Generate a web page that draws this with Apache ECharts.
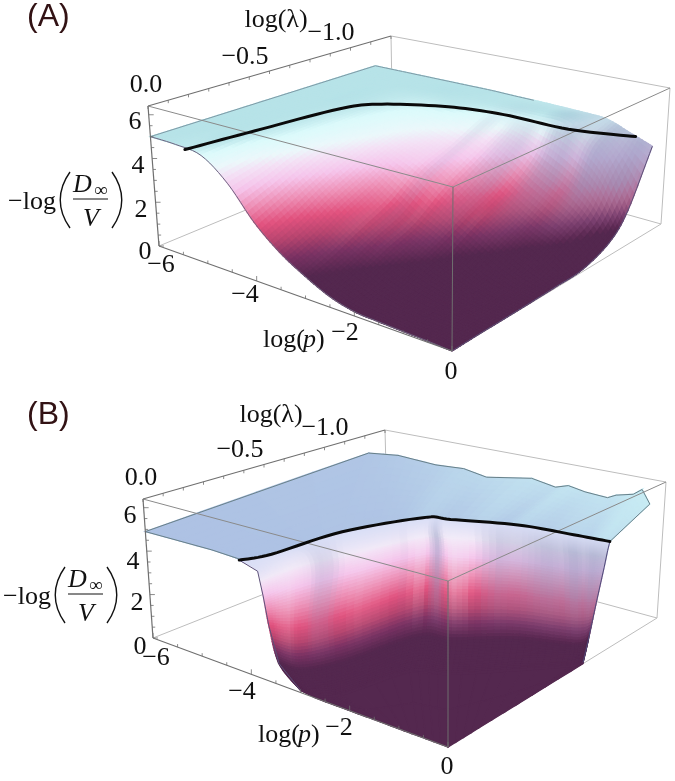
<!DOCTYPE html>
<html><head><meta charset="utf-8">
<style>html,body{margin:0;padding:0;background:#fff}#c{width:675px;height:781px}</style>
<script src="https://cdn.jsdelivr.net/npm/echarts@6/dist/echarts.min.js"></script>
</head><body><div id="c"></div>
<script>
// ---------- values ----------
const pTicks=[-6,-4,-2,0], lambdaTicks=[0,-0.5,-1], zTicks=[0,2,4,6];
// Panel A: surface height z on a (log p, log lambda) table
const pA=[-6,-5.5,-5,-4.5,-4,-3.5,-3,-2.5,-2,-1.5,-1,-0.5,0];
const lambdaA=[-1.12,-1,-0.9,-0.75,-0.6,-0.45,-0.3,-0.15,0];
const zA=[
[5,5,5,5,5,5,4.97,4.95,4.92,4.88,4.8,4.4,4.0],
[5,5,5,5,5,4.98,4.96,4.93,4.9,4.85,4.3,3.4,1.6],
[5,5,5,4.95,4.9,4.88,4.7,4.35,3.9,3.2,2.6,1.8,0.6],
[5,5,5,4.9,4.7,4.4,4.05,3.6,2.8,2.1,1.5,1.0,0.1],
[5,5,4.98,4.83,4.5,4.0,3.55,2.85,2.1,1.5,0.9,0.4,0.05],
[5,5,4.97,4.75,4.2,3.4,2.6,1.9,1.4,0.8,0.35,0.1,0.03],
[5,5,4.95,4.6,3.7,2.8,2.0,1.4,0.85,0.5,0.25,0.06,0.02],
[5,4.99,4.92,4.2,3.1,2.1,1.4,0.85,0.4,0.2,0.1,0.05,0.02],
[5,4.97,4.8,3.9,2.55,1.6,0.95,0.45,0.18,0.12,0.08,0.05,0]];
const tintA=[
[0,0,0,0,0,0,0,0,0.1,0.2,0.3,0.45,0.6],
[0,0,0,0,0,0,0,0.1,0,0.25,0.35,0.55,0.6],
[0,0,0,0,0,0,0,0.1,0.1,0.3,0.4,0.55,0.4],
[0,0,0,0,0,0,0,0,0.1,0.15,0.25,0.35,0.2],
[0,0,0,0,0,0,0,0,0,0,0.1,0.15,0],
[0,0,0,0,0,0,0,0,0,0,0,0,0],
[0,0,0,0,0,0,0,0,0,0,0,0,0],
[0,0,0,0,0,0,0,0,0,0,0,0,0],
[0,0,0,0,0,0,0,0,0,0,0,0,0]];
const streak_A=[0,0,0,0,0,0,0,0,0,0,0,0,-0.1,0.12,-0.1,0.1,0.18,-0.1,0.15,0.2,0,0.2,0.1,0.15,0];
const ridgeP_A=[-5.32,-5.16,-4.92,-4.56,-3.6,-2.58,-1.2,0];
const ridgeL_A=[0,-0.31,-0.68,-0.81,-0.92,-0.96,-0.96,-1.02];
const ridgeZ_A=[4.86,4.86,4.86,4.86,4.86,4.86,4.86,4.86];
// Panel B: plateau, rows back edge -> ridge
const plateauP_B=[
[-4.14,-4.68,-6,-6,-5.37,-4.56,-3.97,-3.48,-2.52,-2.01,-1.74,-1.38,-0.9,-0.72,-0.36,-0.18,0],
[-4.14,-4.03,-3.96,-3.84,-3.62,-3.48,-3.3,-2.88,-2.4,-2.04,-1.8,-1.32,-0.72,-0.42,-0.24,-0.12,0]];
const plateauL_B=[
[0,0,0,-1.116,-1.116,-1.116,-1.116,-1.116,-1.116,-1.116,-1.116,-1.116,-1.116,-1.116,-1.116,-1.116,-1.116],
[0,-0.06,-0.12,-0.456,-0.6,-0.68,-0.74,-0.78,-0.828,-0.852,-0.864,-0.876,-0.888,-0.894,-0.898,-0.899,-0.9]];
const plateauZ_B=[
[4.9,4.95,4.9,5.4,5.6,5.5,5.6,5.4,5.8,5.6,5.8,5.66,5.6,5.8,6.0,6.3,5.7],
[4.85,4.85,4.85,4.85,4.85,4.85,4.85,4.85,4.85,4.85,4.85,4.85,4.85,4.85,4.85,4.85,4.85]];
const plateauHue_B=[
[0.05,0.05,0,0.1,0.2,0.35,0.5,0.55,0.75,0.65,0.85,0.75,0.8,0.8,0.95,1,1],
[0,0,0,0.05,0.05,0.1,0.35,0.15,0.45,0.2,0.5,0.3,0.5,0.45,0.7,0.8,0.7]];
// Panel B: cliff, rows ridge -> foot, columns left -> right
const cliffP_B=[
[-4.14,-3.96,-3.84,-3.3,-2.88,-1.8,-0.72,0],
[-3.78,-3.84,-3.6,-3.2,-2.8,-1.75,-0.66,0],
[-3.69,-3.59,-3.41,-3.03,-2.57,-1.58,-0.52,0],
[-3.6,-3.2,-3.0,-2.74,-2.25,-1.36,-0.31,0],
[-3.42,-3,-2.7,-2.4,-1.86,-1.08,-0.06,0],
[-3,-2.7,-2.4,-2.1,-1.56,-0.84,-0.06,0]];
const cliffL_B=[
[0,-0.12,-0.456,-0.74,-0.78,-0.864,-0.888,-0.9],
[0,-0.2,-0.4,-0.7,-0.76,-0.845,-0.87,-0.89],
[0,-0.168,-0.36,-0.665,-0.713,-0.803,-0.845,-0.874],
[0,-0.05,-0.22,-0.581,-0.629,-0.738,-0.799,-0.838],
[0,-0.006,-0.15,-0.48,-0.528,-0.66,-0.744,-0.8],
[0,0,-0.06,-0.36,-0.42,-0.564,-0.72,-0.775]];
const cliffZ_B=[
[4.85,4.85,4.85,4.85,4.85,4.85,4.85,4.85],
[4.6,4.5,4.5,4.5,4.5,4.5,4.5,4.5],
[3.6,3.8,3.8,3.8,3.8,3.8,3.8,3.8],
[2.4,2.4,2.4,2.4,2.4,2.4,2.4,2.4],
[0.9,0.9,0.9,0.9,0.9,0.9,0.9,0.9],
[0.1,0.1,0.1,0.1,0.1,0.1,0.1,0.05]];
// Panel B: flat floor under and in front of the cliff foot
const floorP_B=[
[-3.42,-3,-2.7,-2.4,-1.86,-1.08,-0.06,0],
[-3,-2.7,-2.4,-2.1,-1.56,-0.84,-0.06,0],
[-2.7,-1.8,-1.2,-0.6,0,0,0,0]];
const floorL_B=[
[0,-0.006,-0.15,-0.48,-0.528,-0.66,-0.744,-0.8],
[0,0,-0.06,-0.36,-0.42,-0.564,-0.72,-0.775],
[0,0,0,0,0,-0.18,-0.48,-0.775]];
const floorZ_B=[
[0.9,0.9,0.9,0.9,0.9,0.9,0.9,0.9],
[0.1,0.1,0.1,0.1,0.1,0.1,0.1,0.05],
[0,0,0,0,0,0,0,0]];
const streak_B=[0,0,-0.1,-0.15,0,0.05,0.25,0.2,0,-0.1,-0.05,0.05,-0.25,0.2,0.5,0.15,-0.35,-0.2,0.15,0.35,0.3,0.4,0.5,0.45,0.6,0.5,0.6,0.55,0.5];
const ridgeP_B=[-4.14,-3.96,-3.84,-3.3,-2.88,-1.8,-0.72,0];
const ridgeL_B=[0,-0.12,-0.456,-0.74,-0.78,-0.864,-0.888,-0.9];
const ridgeZ_B=[4.85,4.85,4.85,4.85,4.85,4.85,4.85,4.85];

// ---------- layout ----------
const boxA={a0:[159,246],a1:[148,106],b0:[452,351],b1:[453,187],c0:[393,149],c1:[391,36],d0:[661,224],d1:[670,88]};
const boxB={a0:[153,638],a1:[143,499],b0:[448,747],b1:[448,581],c0:[388,545],c1:[385,430],d0:[657,618],d1:[666,482]};
const zTop=6.4, lambdaEnd=-1.2;
function proj(B,p,l,z){
  const u=(p+6)/6,v=l/lambdaEnd,w=z/zTop;
  const f=(i)=>{
    const b00=B.a0[i]+(B.a1[i]-B.a0[i])*w, b10=B.b0[i]+(B.b1[i]-B.b0[i])*w,
          b01=B.c0[i]+(B.c1[i]-B.c0[i])*w, b11=B.d0[i]+(B.d1[i]-B.d0[i])*w;
    return b00*(1-u)*(1-v)+b10*u*(1-v)+b01*(1-u)*v+b11*u*v;};
  return [f(0),f(1)];
}
const hex=h=>[parseInt(h.slice(1,3),16),parseInt(h.slice(3,5),16),parseInt(h.slice(5,7),16)];
const mix=(a,b,t)=>[a[0]+(b[0]-a[0])*t,a[1]+(b[1]-a[1])*t,a[2]+(b[2]-a[2])*t];
const css=c=>`rgb(${c[0]|0},${c[1]|0},${c[2]|0})`;
const stopsZ=[[0,'#54284f'],[0.9,'#54284f'],[1.4,'#7a3263'],[1.9,'#b84670'],[2.4,'#e2537f'],[3.0,'#ee90b6'],[3.6,'#f6c6ec'],[4.1,'#f4e2f6'],[4.4,'#ecf8fb'],[4.8,'#dcfbfc'],[4.95,'#bfe8ec'],[5.05,'#b0dfe5'],[7,'#b0dfe5']].map(s=>[s[0],hex(s[1])]);
function zColor(z){
  if(z<=0) return stopsZ[0][1];
  for(let i=1;i<stopsZ.length;i++) if(z<=stopsZ[i][0]){
    const a=stopsZ[i-1],b=stopsZ[i];return mix(a[1],b[1],(z-a[0])/(b[0]-a[0]));}
  return stopsZ[stopsZ.length-1][1];
}
const greyBlue=hex('#8e98be'),white=hex('#f4f2fb'),peri=hex('#aec2e4'),paleCyan=hex('#c8ecf4'),lilac=hex('#d8def6');
function shade(z,t){
  const c=zColor(z);
  const k=Math.max(0,Math.min(1,(z-1)/1.5));
  return t>=0?mix(c,greyBlue,Math.min(1,t*k)):mix(c,white,Math.min(1,-t*k));
}
const bil=(M,j,i,s,t)=>M[j][i]*(1-s)*(1-t)+M[j][i+1]*s*(1-t)+M[j+1][i]*(1-s)*t+M[j+1][i+1]*s*t;
const cr=(a,b,c,d,t)=>0.5*(2*b+(c-a)*t+(2*a-5*b+4*c-d)*t*t+(3*b-a-3*c+d)*t*t*t);
const clampI=(x,n)=>Math.max(0,Math.min(n-1,x));
function bic(M,j,i,s,t){
  const R=M.length,C=M[0].length;
  const row=r=>{const m=M[clampI(r,R)];return cr(m[clampI(i-1,C)],m[i],m[i+1],m[clampI(i+2,C)],s);};
  return cr(row(j-1),row(j),row(j+1),row(j+2),t);
}
const polys=[];
function addMesh(B,P,L,Z,colorOf,nx,ny,smooth){
  const g=smooth?bic:bil;
  for(let j=0;j<P.length-1;j++)for(let i=0;i<P[0].length-1;i++){
    for(let b=0;b<ny;b++)for(let a=0;a<nx;a++){
      const pt=(s,t)=>proj(B,g(P,j,i,s,t),g(L,j,i,s,t),Math.max(0,g(Z,j,i,s,t)));
      const s0=a/nx,s1=(a+1)/nx,t0=b/ny,t1=(b+1)/ny;
      polys.push({pts:[pt(s0,t0),pt(s1,t0),pt(s1,t1),pt(s0,t1)],color:css(colorOf(j,i,(s0+s1)/2,(t0+t1)/2))});
    }
  }
}
const table=(T,x)=>{const k=Math.min(Math.floor(x),T.length-2),f=x-k;return T[k]*(1-f)+T[k+1]*f;};
const gridP=lambdaA.map(()=>pA.slice());
const gridL=lambdaA.map(l=>pA.map(()=>l));
addMesh(boxA,gridP,gridL,zA,(j,i,s,t)=>{
  const z=bic(zA,j,i,s,t);
  const band=Math.max(0,Math.min(1,(4.95-z)/0.5));
  return shade(z,bil(tintA,j,i,s,t)+table(streak_A,(i+s)*2)*band);
},8,8,true);
addMesh(boxB,plateauP_B,plateauL_B,plateauZ_B,(j,i,s,t)=>mix(peri,paleCyan,bil(plateauHue_B,j,i,s,t)),4,10,false);
addMesh(boxB,floorP_B,floorL_B,floorZ_B,()=>stopsZ[0][1],4,2,false);
addMesh(boxB,cliffP_B,cliffL_B,cliffZ_B,(j,i,s,t)=>{
  const z=bic(cliffZ_B,j,i,s,t);
  const c=shade(Math.min(z,4.2),table(streak_B,(i+s)*4));
  return mix(c,lilac,Math.max(0,Math.min(1,(z-4.2)/0.65)));
},10,14,true);

const segUnder=[],segOver=[];
function seg(list,a,b,color,w){list.push({a,b,color,w});}
function addBox(B){
  const light='#bdbdbd',mid='#8a8a8a',dark='#6f6f6f';
  seg(segUnder,B.a0,B.c0,light,1);seg(segUnder,B.c0,B.d0,light,1);seg(segUnder,B.c0,B.c1,light,1);
  seg(segUnder,B.c1,B.d1,light,1);seg(segUnder,B.a1,B.c1,dark,1.1);
  seg(segUnder,B.d1,B.d0,light,1);seg(segUnder,B.d0,B.b0,light,1);
  seg(segOver,B.a1,B.b1,mid,1);seg(segOver,B.b1,B.d1,mid,1);seg(segOver,B.b1,B.b0,dark,1);
  seg(segOver,B.a1,B.a0,dark,1.2);seg(segOver,B.a0,B.b0,dark,1.1);
  for(let z=0;z<=6;z+=0.5){const q=proj(B,-6,0,z);seg(segOver,q,[q[0]+(z%2===0?5:3),q[1]],dark,0.8);}
  for(let p=-6;p<=0;p+=0.5){const q=proj(B,p,0,0);seg(segOver,q,[q[0],q[1]-(p%2===0?5:3)],dark,0.8);}
  for(let l=0;l>=-1.2;l-=0.1){const q=proj(B,-6,l,zTop);seg(segUnder,q,[q[0],q[1]+3],dark,0.8);}
}
addBox(boxA);addBox(boxB);

function densify(P,L,Z,n){const out=[];const N=P.length;
  for(let i=0;i<N-1;i++)for(let k=0;k<(i===N-2?n+1:n);k++){const t=k/n;
    const c=A=>cr(A[clampI(i-1,N)],A[i],A[i+1],A[clampI(i+2,N)],t);
    out.push([c(P),c(L),c(Z)]);}
  return out;}
const outlines=[];
function outline(B,pts,color,w){outlines.push({pts:pts.map(q=>proj(B,q[0],q[1],Math.max(0,q[2]))),color,w});}
const zip=(P,L,Z)=>P.map((p,i)=>[p,L[i],Z[i]]);
const col=(M,c)=>M.map(r=>r[c]);
outline(boxA,densify(pA,lambdaA.map(()=>lambdaA[0]),zA[0],6),'#7f9aa6',1);
outline(boxA,zip([-6,-6],[lambdaA[0],0],[zA[0][0],zA[8][0]]),'#7f9aa6',1);
outline(boxA,densify(pA,pA.map(()=>0),zA[8],6),'#6f6480',1);
outline(boxA,densify(lambdaA.map(()=>0),lambdaA,col(zA,12),6),'#5d5078',1);
outline(boxB,zip(plateauP_B[0],plateauL_B[0],plateauZ_B[0]),'#688088',1);
outline(boxB,zip(col(cliffP_B,0),col(cliffL_B,0),col(cliffZ_B,0)),'#5d5078',1);
outline(boxB,zip(col(cliffP_B,7),col(cliffL_B,7),col(cliffZ_B,7)),'#4f4a78',1);
outline(boxB,zip(col(plateauP_B,16),col(plateauL_B,16),col(plateauZ_B,16)),'#688088',1);
const ridges=[
 densify(ridgeP_A,ridgeL_A,ridgeZ_A,10).map(q=>proj(boxA,q[0],q[1],q[2])),
 densify(ridgeP_B,ridgeL_B,ridgeZ_B,10).map(q=>proj(boxB,q[0],q[1],q[2]))];

const serif='"Liberation Serif",serif';
const texts=[],fracs=[],parens=[];
function T(text,x,y,size,o){texts.push(Object.assign({text,x,y,size,family:serif,style:'normal',color:'#111',align:'center'},o||{}));}
function labels(L){
  lambdaTicks.forEach((v,i)=>T(i===0?'0.0':'\u2212'+Math.abs(v).toFixed(1),L.l[i][0],L.l[i][1],26));
  zTicks.forEach((v,i)=>T(String(v),L.z[i][0],L.z[i][1],26));
  pTicks.forEach((v,i)=>T(v===0?'0':'\u2212'+Math.abs(v),L.p[i][0],L.p[i][1],26));
  T('log(\u03bb)',L.ll[0],L.ll[1],26);
  T('log(',L.lp[0],L.lp[1],26,{align:'left'});
  T('p',L.lp[0]+40,L.lp[1],26,{align:'left',style:'italic'});
  T(')',L.lp[0]+53,L.lp[1],26,{align:'left'});
  const x=L.f[0],y=L.f[1];
  T('\u2212log',x,y,26,{align:'left'});
  T('D',x+65,y-17,26,{align:'left',style:'italic'});
  T('\u221e',x+86,y-11,19,{align:'left'});
  T('V',x+75,y+17,26,{align:'left',style:'italic'});
  fracs.push([[x+65,y-3],[x+100,y-3]]);
  parens.push([[x+62,y-30],[x+49,y-12],[x+49,y+8],[x+62,y+26]]);
  parens.push([[x+104,y-30],[x+117,y-12],[x+117,y+8],[x+104,y+26]]);
}
labels({l:[[146,85],[245,57],[331,33]],z:[[145,252],[141,210],[138,166],[135,122]],p:[[161,265],[245,295],[345,333],[451,372]],ll:[276,20],lp:[263,340],f:[8,202]});
labels({l:[[141,478],[240,450],[325,428]],z:[[140,647],[137,603],[133,562],[130,516]],p:[[156,658],[242,692],[339,728],[447,767]],ll:[271,415],lp:[258,735],f:[3,597]});
T('(A)',27,17,32,{align:'left',family:'"Liberation Sans",sans-serif',color:'#321214'});
T('(B)',27,415,32,{align:'left',family:'"Liberation Sans",sans-serif',color:'#321214'});

const chart=echarts.init(document.getElementById('c'),null,{renderer:'canvas'});
const silentSeries=(data,renderItem,z)=>({type:'custom',coordinateSystem:'cartesian2d',data,renderItem,silent:true,animation:false,clip:false,progressive:0,z});
const idx=a=>a.map((_,i)=>[i,0]);
const segItem=list=>(params,api)=>{const s=list[params.dataIndex];
  const a=api.coord(s.a),b=api.coord(s.b);
  return {type:'line',shape:{x1:a[0],y1:a[1],x2:b[0],y2:b[1]},style:{stroke:s.color,lineWidth:s.w}};};
chart.setOption({
  animation:false,
  grid:{left:0,right:0,top:0,bottom:0},
  xAxis:{type:'value',min:0,max:675,show:false},
  yAxis:{type:'value',min:0,max:781,inverse:true,show:false},
  series:[
    silentSeries(idx(segUnder),segItem(segUnder),1),
    silentSeries(idx(polys),(params,api)=>{
      const q=polys[params.dataIndex];
      return {type:'polygon',shape:{points:q.pts.map(v=>api.coord(v))},style:{fill:q.color,stroke:q.color,lineWidth:1.3}};
    },2),
    silentSeries(idx(outlines),(params,api)=>{const o=outlines[params.dataIndex];
      return {type:'polyline',shape:{points:o.pts.map(v=>api.coord(v))},style:{fill:null,stroke:o.color,lineWidth:o.w}};},3),
    silentSeries(idx(segOver),segItem(segOver),3),
    silentSeries(idx(ridges),(params,api)=>({type:'polyline',
      shape:{points:ridges[params.dataIndex].map(v=>api.coord(v))},
      style:{fill:null,stroke:'#0a0a0a',lineWidth:3,lineCap:'round',lineJoin:'round'}}),4),
    silentSeries(idx(fracs),(params,api)=>{const f=fracs[params.dataIndex];const a=api.coord(f[0]),b=api.coord(f[1]);
      return {type:'line',shape:{x1:a[0],y1:a[1],x2:b[0],y2:b[1]},style:{stroke:'#111',lineWidth:1}};},5),
    silentSeries(idx(parens),(params,api)=>{const q=parens[params.dataIndex].map(v=>api.coord(v));
      return {type:'bezierCurve',shape:{x1:q[0][0],y1:q[0][1],cpx1:q[1][0],cpy1:q[1][1],cpx2:q[2][0],cpy2:q[2][1],x2:q[3][0],y2:q[3][1]},style:{fill:null,stroke:'#111',lineWidth:1.4}};},5),
    silentSeries(idx(texts),(params,api)=>{const t=texts[params.dataIndex];const c=api.coord([t.x,t.y]);
      return {type:'text',style:{text:t.text,x:c[0],y:c[1],fill:t.color,align:t.align,verticalAlign:'middle',
        font:`${t.style} ${t.weight||'normal'} ${t.size}px ${t.family}`}};},6)
  ]
});
</script></body></html>
